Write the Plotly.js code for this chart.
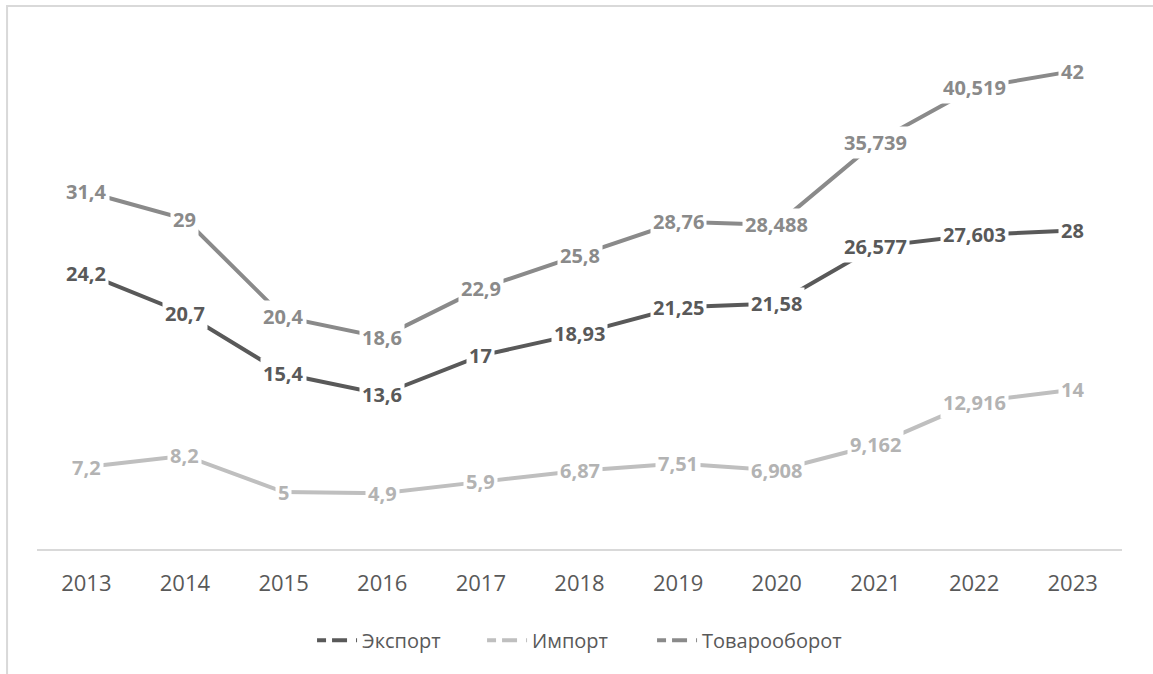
<!DOCTYPE html>
<html>
<head>
<meta charset="utf-8">
<script src="https://cdn.plot.ly/plotly-3.0.1.min.js"></script>
<style>html,body{margin:0;padding:0;background:#fff;}#chart{width:1153px;height:674px;}</style>
</head>
<body>
<div id="chart"></div>
<script>
const years = ["2013","2014","2015","2016","2017","2018","2019","2020","2021","2022","2023"];
const exportVals = [24.2, 20.7, 15.4, 13.6, 17, 18.93, 21.25, 21.58, 26.577, 27.603, 28];
const importVals = [7.2, 8.2, 5, 4.9, 5.9, 6.87, 7.51, 6.908, 9.162, 12.916, 14];
const turnoverVals = [31.4, 29, 20.4, 18.6, 22.9, 25.8, 28.76, 28.488, 35.739, 40.519, 42];
const seriesNames = ["Экспорт", "Импорт", "Товарооборот"];

const colors = ["#595959", "#bfbfbf", "#8a8a8a"];
const textColors = ["#595959", "#b3b3b3", "#8a8a8a"];
const legendWidths = [115, 115, 150];
const allSeries = [exportVals, importVals, turnoverVals];

const fmt = v => String(v).replace('.', ',');

const traces = allSeries.map((vals, i) => ({
  type: 'scatter',
  mode: 'lines',
  x: years,
  y: vals,
  name: seriesNames[i],
  showlegend: false,
  line: {color: colors[i], width: 4},
  hoverinfo: 'skip'
}));

// legend entries (dashed symbol like the original legend)
seriesNames.forEach((nm, i) => {
  traces.push({
    type: 'scatter',
    mode: 'lines',
    x: [null],
    y: [null],
    name: nm,
    showlegend: true,
    legendwidth: legendWidths[i],
    line: {color: colors[i], width: 4, dash: '9px,6px,15px'},
    hoverinfo: 'skip'
  });
});

const annotations = [];
allSeries.forEach((vals, i) => {
  vals.forEach((v, j) => {
    annotations.push({
      x: j, y: v, xref: 'x', yref: 'y',
      text: '<b>' + fmt(v) + '</b>',
      showarrow: false,
      bgcolor: '#ffffff',
      borderpad: 2,
      font: {family: 'Open Sans, sans-serif', size: 20, color: textColors[i]},
      xanchor: 'center', yanchor: 'middle'
    });
  });
});

const layout = {
  width: 1153, height: 674,
  margin: {l: 37, r: 31, t: 37, b: 125},
  paper_bgcolor: '#ffffff',
  plot_bgcolor: '#ffffff',
  showlegend: true,
  legend: {
    orientation: 'h', x: 0.2535, xanchor: 'left', y: -0.178, yanchor: 'middle',
    font: {family: 'Open Sans, sans-serif', size: 20, color: '#595959'},
    itemwidth: 40,
    traceorder: 'normal'
  },
  xaxis: {
    type: 'category',
    range: [-0.5, 10.5],
    showgrid: false, zeroline: false,
    showline: true, linecolor: '#d9d9d9', linewidth: 2,
    ticks: '',
    ticklabelstandoff: 14,
    tickfont: {family: 'Open Sans, sans-serif', size: 22, color: '#595959'},
    fixedrange: true
  },
  yaxis: {
    range: [0, 45],
    showgrid: false, zeroline: false, showline: false,
    showticklabels: false, ticks: '',
    fixedrange: true
  },
  shapes: [{
    type: 'rect', xref: 'paper', yref: 'paper',
    x0: -0.0276, x1: 1.2, y0: -0.5, y1: 1.0605,
    line: {color: '#d9d9d9', width: 2},
    fillcolor: 'rgba(0,0,0,0)',
    layer: 'below'
  }],
  annotations: annotations
};

Plotly.newPlot('chart', traces, layout, {displayModeBar: false, staticPlot: true});
</script>
</body>
</html>
